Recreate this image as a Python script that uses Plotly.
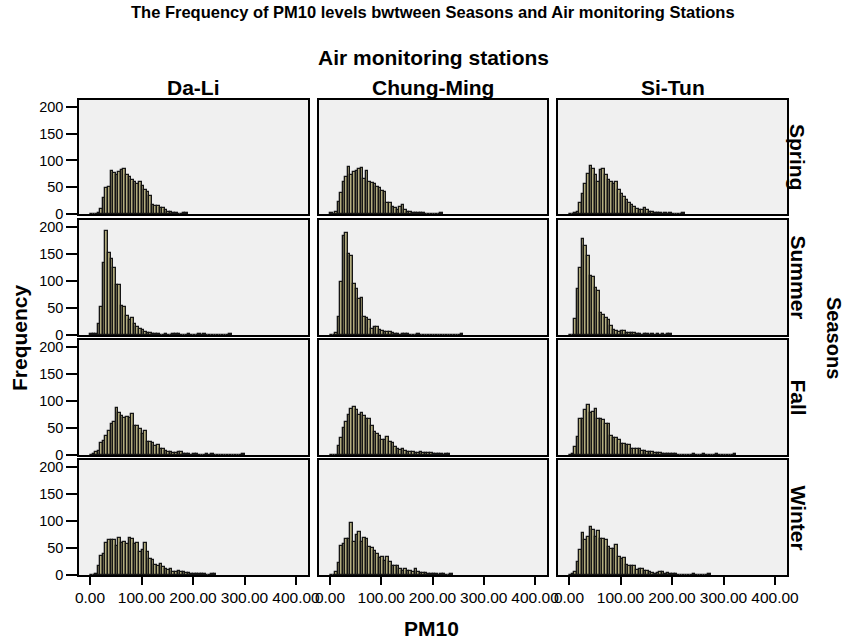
import plotly.graph_objects as go

# ---------------- data (histogram counts, bins of width 5 starting at 0) ----------------
bin_width = 5
stations = ["Da-Li", "Chung-Ming", "Si-Tun"]
seasons = ["Spring", "Summer", "Fall", "Winter"]
x_tick_vals = [0, 100, 200, 300, 400]
x_tick_text = ["0.00", "100.00", "200.00", "300.00", "400.00"]
y_tick_vals = [0, 50, 100, 150, 200]

dali_spring = [0, 0, 0, 1, 10, 29, 48, 50, 81, 77, 73, 79, 82, 84, 73, 69, 64, 59, 56, 59,
               52, 44, 42, 34, 17, 15, 15, 12, 11, 7, 4, 3, 2, 1, 0, 0, 1, 1]
dali_summer = [1, 1, 2, 20, 52, 133, 192, 152, 141, 125, 92, 92, 53, 52, 36, 28, 31, 20, 14, 11,
               9, 6, 4, 3, 2, 2, 1, 0, 0, 1, 0, 0, 1, 1, 1, 0, 0, 0, 1, 0, 0, 0, 1, 0, 2,
               0, 0, 0, 0, 0, 0, 0, 0, 0, 1]
dali_fall = [0, 2, 6, 8, 22, 26, 36, 45, 58, 62, 87, 77, 73, 69, 71, 69, 76, 53, 54, 48,
             39, 45, 25, 25, 22, 16, 19, 11, 12, 8, 6, 5, 4, 3, 5, 5, 2, 2, 1, 0, 2, 2, 0, 0, 0,
             1, 0, 1, 0, 0, 0, 0, 0, 0, 0, 0, 0, 0, 0, 1]
dali_winter = [0, 0, 2, 17, 36, 38, 59, 65, 64, 64, 54, 69, 59, 61, 57, 69, 67, 57, 59, 43,
               46, 59, 42, 29, 28, 19, 17, 20, 14, 12, 9, 12, 6, 6, 7, 6, 6, 4, 3, 2, 2, 1, 2, 2,
               1, 0, 0, 1, 1]

chung_spring = [1, 0, 4, 23, 39, 59, 69, 87, 73, 79, 81, 84, 86, 65, 81, 59, 57, 56, 51, 49,
                43, 41, 20, 21, 14, 12, 7, 14, 16, 7, 4, 4, 2, 2, 1, 1, 1, 0, 0, 0, 0, 0, 0, 1]
chung_summer = [0, 0, 4, 34, 99, 183, 189, 150, 147, 94, 86, 67, 69, 33, 31, 27, 11, 14, 14, 9,
                8, 5, 5, 5, 3, 2, 2, 0, 2, 2, 2, 0, 0, 0, 1, 0, 0, 0, 0, 0, 0, 0, 0, 0, 0,
                0, 0, 0, 0, 0, 0, 1]
chung_fall = [0, 0, 0, 16, 31, 50, 61, 75, 86, 89, 83, 75, 77, 72, 67, 67, 54, 42, 39, 36,
              28, 27, 33, 24, 22, 14, 11, 10, 11, 7, 5, 5, 6, 4, 4, 5, 4, 4, 3, 3, 2, 2, 2, 1,
              0, 1, 1]
chung_winter = [0, 0, 5, 22, 54, 58, 67, 66, 96, 62, 75, 80, 62, 69, 67, 52, 50, 44, 39, 32,
                34, 26, 33, 24, 16, 16, 17, 11, 8, 11, 8, 8, 6, 11, 6, 4, 4, 3, 2, 2, 1, 1, 0,
                2, 2, 0, 0, 1]

situn_spring = [0, 0, 1, 4, 21, 37, 56, 75, 90, 85, 73, 60, 82, 84, 72, 64, 60, 56, 59, 44,
                37, 32, 26, 21, 17, 14, 9, 7, 7, 11, 7, 3, 3, 2, 1, 2, 0, 1, 0, 1, 0, 0, 0, 0, 1]
situn_summer = [0, 0, 30, 86, 125, 177, 164, 146, 110, 108, 87, 81, 41, 37, 31, 27, 17, 10, 8, 6,
                8, 7, 4, 4, 3, 3, 2, 2, 0, 2, 1, 0, 1, 0, 1, 0, 1, 0, 1, 1]
situn_fall = [0, 2, 14, 33, 67, 66, 83, 92, 77, 79, 85, 67, 66, 64, 58, 58, 36, 32, 31, 27,
              21, 21, 19, 19, 12, 11, 12, 12, 8, 7, 5, 5, 5, 3, 3, 3, 2, 2, 2, 1, 1, 1, 0, 0, 0,
              0, 0, 0, 1, 0, 0, 0, 1, 0, 0, 0, 0, 1, 0, 0, 0, 0, 0, 0, 1]
situn_winter = [0, 2, 5, 24, 46, 77, 64, 70, 89, 83, 70, 81, 66, 66, 64, 52, 48, 48, 56, 33,
                30, 31, 19, 17, 17, 16, 10, 11, 12, 8, 8, 6, 4, 2, 3, 6, 5, 2, 4, 2, 2, 1, 0, 0,
                0, 0, 0, 0, 1, 0, 0, 0, 0, 0, 1]

grid = [
    [dali_spring, chung_spring, situn_spring],
    [dali_summer, chung_summer, situn_summer],
    [dali_fall, chung_fall, situn_fall],
    [dali_winter, chung_winter, situn_winter],
]

# ---------------- layout geometry (screen pixels of the 846x640 window) ----------------
W, H = 846, 640
col_px = [(79, 308), (319, 547), (558, 787)]
row_px = [(100, 214), (220, 335), (340, 455), (460, 575)]
x_range = [-21.4, 423.3]
y_range = [0, 213]


def px(x):
    return x / W


def py(y):
    return 1 - y / H


FONT = "Liberation Sans, Arial, sans-serif"
BAR_FILL = "#b3ad7e"
PANEL_BG = "#f0f0f0"

fig = go.Figure()
layout_axes = {}

for i, row in enumerate(grid):
    for j, counts in enumerate(row):
        idx = i * 3 + j + 1
        sfx = "" if idx == 1 else str(idx)
        centers = [k * bin_width + bin_width / 2 for k in range(len(counts))]
        fig.add_trace(go.Bar(
            x=centers, y=counts, width=bin_width,
            xaxis="x" + sfx, yaxis="y" + sfx,
            marker=dict(color=BAR_FILL, line=dict(color="#151515", width=1.3)),
            showlegend=False, hoverinfo="x+y",
        ))
        x0, x1 = col_px[j]
        y0, y1 = row_px[i]
        bottom = (i == len(grid) - 1)
        left = (j == 0)
        layout_axes["xaxis" + sfx] = dict(
            domain=[px(x0), px(x1)], anchor="y" + sfx, range=x_range, automargin=False,
            showgrid=False, zeroline=False,
            showline=True, mirror=True, linecolor="black", linewidth=1.5,
            tickvals=x_tick_vals, ticktext=x_tick_text,
            ticks="outside" if bottom else "", ticklen=8, tickwidth=2, tickcolor="black",
            showticklabels=bottom,
            tickfont=dict(family=FONT, size=15.5, color="black"),
        )
        layout_axes["yaxis" + sfx] = dict(
            domain=[py(y1), py(y0)], anchor="x" + sfx, range=y_range, automargin=False,
            showgrid=False, zeroline=False,
            showline=True, mirror=True, linecolor="black", linewidth=1.5,
            tickvals=y_tick_vals,
            ticks="outside" if left else "", ticklen=11, tickwidth=1.5, tickcolor="black",
            showticklabels=left,
            tickfont=dict(family=FONT, size=14.5, color="black"),
        )


def label(text, x, y, size, angle=0):
    return dict(text="<b>" + text + "</b>", x=px(x), y=py(y), xref="paper", yref="paper",
                xanchor="center", yanchor="middle", showarrow=False, textangle=angle,
                font=dict(family=FONT, size=size, color="black"))


annotations = [
    label("The Frequency of PM10 levels bwtween Seasons and Air monitoring Stations", 433, 12, 16.5),
    label("Air monitoring stations", 433, 57, 21),
]
for j, name in enumerate(stations):
    cx = (col_px[j][0] + col_px[j][1]) / 2
    annotations.append(label(name, cx, 87, 21))
for i, name in enumerate(seasons):
    cy = (row_px[i][0] + row_px[i][1]) / 2
    annotations.append(label(name, 798, cy, 21, 90))
annotations.append(label("Seasons", 834, 338, 20, 90))
annotations.append(label("Frequency", 19, 338, 21, -90))
annotations.append(label("PM10", 432, 628, 21))

fig.update_layout(
    width=W, height=H,
    margin=dict(l=0, r=0, t=0, b=0, pad=0, autoexpand=False),
    paper_bgcolor="white", plot_bgcolor=PANEL_BG,
    bargap=0, barmode="overlay",
    annotations=annotations,
    font=dict(family=FONT, color="black"),
    **layout_axes,
)

# remove the browser's default 8px body margin so the figure fills the window exactly
fig.write_html("out.html", config={"displayModeBar": False},
               post_script="document.body.style.margin='0';")
